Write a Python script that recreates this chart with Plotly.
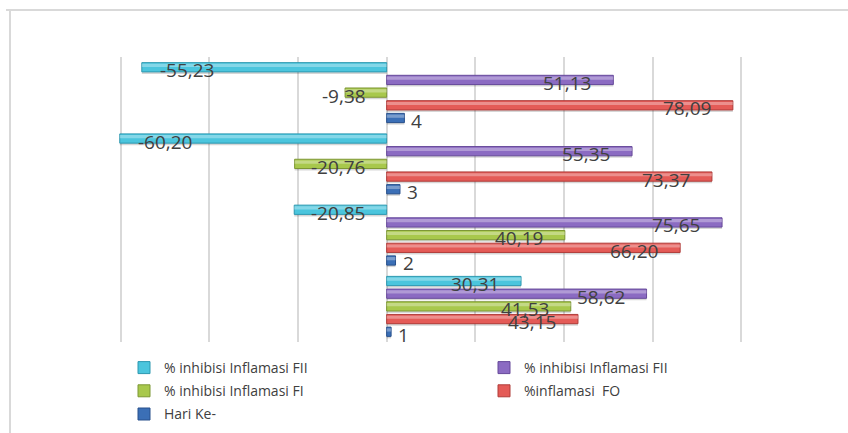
import plotly.graph_objects as go

# Hari ke- (day) categories and measured series
days = [1, 2, 3, 4]
hari_ke = [1, 2, 3, 4]
inflamasi_fo = [43.15, 66.20, 73.37, 78.09]
inhibisi_fi = [41.53, 40.19, -20.76, -9.38]
inhibisi_fii_a = [58.62, 75.65, 55.35, 51.13]
inhibisi_fii_b = [30.31, -20.85, -60.20, -55.23]

# bottom-to-top order inside each day group
series = [
    ("Hari Ke-", hari_ke, "#3B6FB6", "#28508c", "legend"),
    ("%inflamasi  FO", inflamasi_fo, "#E45B57", "#b03c39", "legend2"),
    ("% inhibisi Inflamasi FI", inhibisi_fi, "#A8C84C", "#7d9734", "legend"),
    ("% inhibisi Inflamasi FII", inhibisi_fii_a, "#8B6BC2", "#66499a", "legend2"),
    ("% inhibisi Inflamasi FII", inhibisi_fii_b, "#4BC5DD", "#2d98b0", "legend"),
]

W, H = 848, 433
ML, MR, MT, MB = 32, 18, 57, 91
PW, PH = W - ML - MR, H - MT - MB
X_MIN, X_MAX = -80, 100
UNIT_Y = PH / 4.0  # pixels per day band

TEXT = "#404040"
FONT = "Open Sans"

slot = 0.178
bar_w = 0.13
n = len(series)

fig = go.Figure()
annotations = []

# soft drop shadow under every bar
for k, (name, vals, color, edge, leg) in enumerate(series):
    shift = (k - (n - 1) / 2) * slot
    sw = bar_w + 1.0 / UNIT_Y
    fig.add_trace(go.Bar(
        y=days, x=vals, orientation="h", name=name,
        width=sw, offset=shift - bar_w / 2 - 2.0 / UNIT_Y,
        marker=dict(color="rgba(0,0,0,0.16)", line=dict(width=0)),
        showlegend=False, hoverinfo="skip", legend=leg,
    ))

# legend entries listed top-to-bottom, so traces are added top series first
for k in reversed(range(n)):
    name, vals, color, edge, leg = series[k]
    shift = (k - (n - 1) / 2) * slot
    fig.add_trace(go.Bar(
        y=days, x=vals, orientation="h", name=name,
        width=bar_w, offset=shift - bar_w / 2,
        marker=dict(color=color, line=dict(color=edge, width=1)),
        legend=leg, legendgroup=f"g{k}",
        hoverinfo="x+name",
    ))
    # glossy highlight on the upper part of the bar
    hw = bar_w * 0.35
    fig.add_trace(go.Bar(
        y=days, x=vals, orientation="h", name=name,
        width=hw, offset=shift + bar_w / 2 - hw - 1.2 / UNIT_Y,
        marker=dict(color="rgba(255,255,255,0.32)", line=dict(width=0)),
        showlegend=False, hoverinfo="skip", legend=leg, legendgroup=f"g{k}",
    ))
    for d, v in zip(days, vals):
        if k == 0:
            txt = f"{v:g}"
            ann = dict(x=v, xanchor="left", xshift=5)
        else:
            txt = f"{v:.2f}".replace(".", ",")
            if v >= 0:
                ann = dict(x=v, xanchor="right", xshift=-20)
            elif v > -25:
                ann = dict(x=0, xanchor="right", xshift=-19)
            else:
                ann = dict(x=v, xanchor="left", xshift=16)
        ann.update(y=d + shift, yanchor="middle", yshift=-3, text=txt,
                   showarrow=False, font=dict(family=FONT, size=19, color=TEXT))
        annotations.append(ann)


def px_x(p):
    return (p - ML) / PW


def px_y(p):
    return (H - MB - p) / PH


frame = dict(color="#d9d9d9", width=2)
shapes = [
    dict(type="line", xref="paper", yref="paper", x0=px_x(6), x1=px_x(W + 2),
         y0=px_y(10), y1=px_y(10), line=frame),
    dict(type="line", xref="paper", yref="paper", x0=px_x(10), x1=px_x(10),
         y0=px_y(10), y1=px_y(H + 2), line=frame),
]

legend_font = dict(family=FONT, size=14, color=TEXT)
fig.update_layout(
    width=W, height=H,
    margin=dict(l=ML, r=MR, t=MT, b=MB, autoexpand=False),
    paper_bgcolor="white", plot_bgcolor="white",
    barmode="overlay",
    showlegend=True,
    xaxis=dict(range=[X_MIN, X_MAX], tick0=-80, dtick=20, showgrid=True,
               gridcolor="#d9d9d9", gridwidth=1.5, zeroline=False,
               showticklabels=False, ticks="", showline=False, fixedrange=True),
    yaxis=dict(range=[0.5, 4.5], showgrid=False, zeroline=False,
               showticklabels=False, ticks="", showline=False, fixedrange=True),
    legend=dict(x=px_x(124), y=px_y(352), xanchor="left", yanchor="top",
                orientation="v", traceorder="grouped", tracegroupgap=2,
                font=legend_font, bgcolor="rgba(0,0,0,0)"),
    legend2=dict(x=px_x(484), y=px_y(352), xanchor="left", yanchor="top",
                 orientation="v", traceorder="grouped", tracegroupgap=2,
                 font=legend_font, bgcolor="rgba(0,0,0,0)"),
    annotations=annotations,
    shapes=shapes,
)

fig.write_html("out.html")
